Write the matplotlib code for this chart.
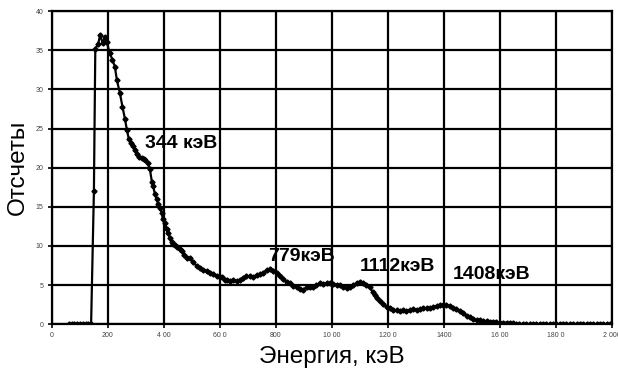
import matplotlib
matplotlib.use("Agg")
import matplotlib.pyplot as plt

# Спектр: энергия (кэВ) и число отсчетов
energy = [60, 70, 80, 90, 100, 110, 120, 130, 140, 150,
          155, 165, 172, 182, 189, 196, 207, 216, 225, 232,
          243, 252, 261, 268, 275, 283, 290, 296, 303, 312,
          321, 328, 334, 342, 350, 357, 362, 368, 374, 379,
          386, 393, 396, 403, 411, 416, 421, 428, 432, 439,
          446, 457, 464, 472, 482, 493, 505, 518, 529, 541,
          553, 564, 576, 589, 600, 607, 618, 627, 636, 648,
          660, 671, 683, 695, 707, 719, 731, 743, 755, 768,
          779, 790, 803, 814, 825, 839, 850, 861, 875, 886,
          896, 911, 921, 932, 945, 957, 970, 982, 993, 1005,
          1017, 1029, 1041, 1054, 1064, 1077, 1089, 1100, 1111, 1123,
          1136, 1146, 1154, 1161, 1171, 1182, 1196, 1207, 1220, 1232,
          1243, 1254, 1266, 1279, 1291, 1304, 1316, 1327, 1339, 1350,
          1362, 1374, 1386, 1396, 1408, 1421, 1433, 1445, 1457, 1469,
          1481, 1493, 1505, 1517, 1529, 1541, 1553, 1564, 1576, 1588,
          1600, 1611, 1625, 1636, 1646, 1658, 1670, 1682, 1694, 1706,
          1718, 1730, 1742, 1754, 1766, 1778, 1790, 1802, 1814, 1826,
          1838, 1850, 1862, 1874, 1886, 1898, 1910, 1922, 1934, 1946,
          1958, 1970, 1982, 1994]

counts = [0, 0, 0, 0, 0, 0, 0, 0, 0, 17.0,
          35.2, 35.8, 36.9, 35.9, 36.7, 36.0, 34.6, 33.8, 32.9, 31.2,
          29.5, 27.8, 26.2, 24.8, 23.6, 23.1, 22.8, 22.3, 21.8, 21.4,
          21.2, 21.1, 21.0, 20.6, 19.8, 18.2, 17.6, 16.6, 16.0, 15.4,
          14.8, 14.2, 13.4, 12.9, 12.1, 11.6, 11.0, 10.5, 10.3, 10.1,
          9.9, 9.6, 9.3, 8.9, 8.5, 8.4, 7.9, 7.4, 7.2, 6.9,
          6.8, 6.6, 6.4, 6.2, 6.0, 6.0, 5.7, 5.6, 5.5, 5.6,
          5.5, 5.6, 5.9, 6.1, 6.1, 6.0, 6.3, 6.4, 6.6, 6.9,
          7.0, 6.8, 6.5, 6.1, 5.8, 5.4, 5.2, 4.9, 4.7, 4.5,
          4.4, 4.7, 4.8, 4.8, 5.0, 5.2, 5.1, 5.2, 5.2, 5.1,
          5.0, 5.0, 4.8, 4.6, 4.8, 5.0, 5.2, 5.4, 5.3, 5.0,
          4.7, 4.1, 3.7, 3.4, 3.0, 2.6, 2.2, 2.0, 1.8, 1.8,
          1.7, 1.8, 1.7, 1.8, 1.9, 1.8, 1.9, 2.0, 2.0, 2.1,
          2.2, 2.3, 2.4, 2.4, 2.4, 2.3, 2.1, 1.9, 1.7, 1.4,
          1.1, 0.9, 0.7, 0.5, 0.5, 0.4, 0.4, 0.3, 0.3, 0.3,
          0.2, 0.2, 0.2, 0.1, 0.1, 0, 0, 0, 0, 0,
          0, 0, 0, 0, 0, 0, 0, 0, 0, 0,
          0, 0, 0, 0, 0, 0, 0, 0, 0, 0,
          0, 0, 0, 0]

# Подписи пиков: (текст, энергия, отсчеты)
peak_labels = ["344 кэВ", "779кэВ", "1112кэВ", "1408кэВ"]
peak_x = [332, 771, 1100, 1432]
peak_y = [23.1, 8.6, 7.4, 6.3]

xticks = [0, 200, 400, 600, 800, 1000, 1200, 1400, 1600, 1800, 2000]
xtick_labels = ["0", "200", "4 00", "60 0", "800", "10 00", "120 0",
                "1400", "16 00", "180 0", "2 000"]
yticks = [0, 5, 10, 15, 20, 25, 30, 35, 40]

plt.rcParams['font.family'] = ['Liberation Sans', 'DejaVu Sans']

fig = plt.figure(figsize=(6.18, 3.73), dpi=100)
ax = fig.add_axes([0.084, 0.131, 0.906, 0.839])

ax.plot(energy, counts, color='black', linewidth=1.6,
        marker='D', markersize=2.6, zorder=3)

for txt, x, y in zip(peak_labels, peak_x, peak_y):
    ax.text(x, y, txt, fontsize=14, fontweight='bold',
            ha='left', va='center', zorder=4)

ax.set_xlim(0, 2000)
ax.set_ylim(0, 40)
ax.set_xticks(xticks)
ax.set_xticklabels(xtick_labels)
ax.set_yticks(yticks)
ax.tick_params(axis='both', labelsize=5, length=3, width=1.2, pad=3,
               colors='black', labelcolor='#444444')

ax.grid(True, color='black', linewidth=1.6)
for spine in ax.spines.values():
    spine.set_color('black')
    spine.set_linewidth(1.6)

ax.set_xlabel("Энергия, кэВ", fontsize=17.5, labelpad=5)
ax.set_ylabel("Отсчеты", fontsize=17.5, labelpad=5)

fig.savefig("out.png", dpi=100)
